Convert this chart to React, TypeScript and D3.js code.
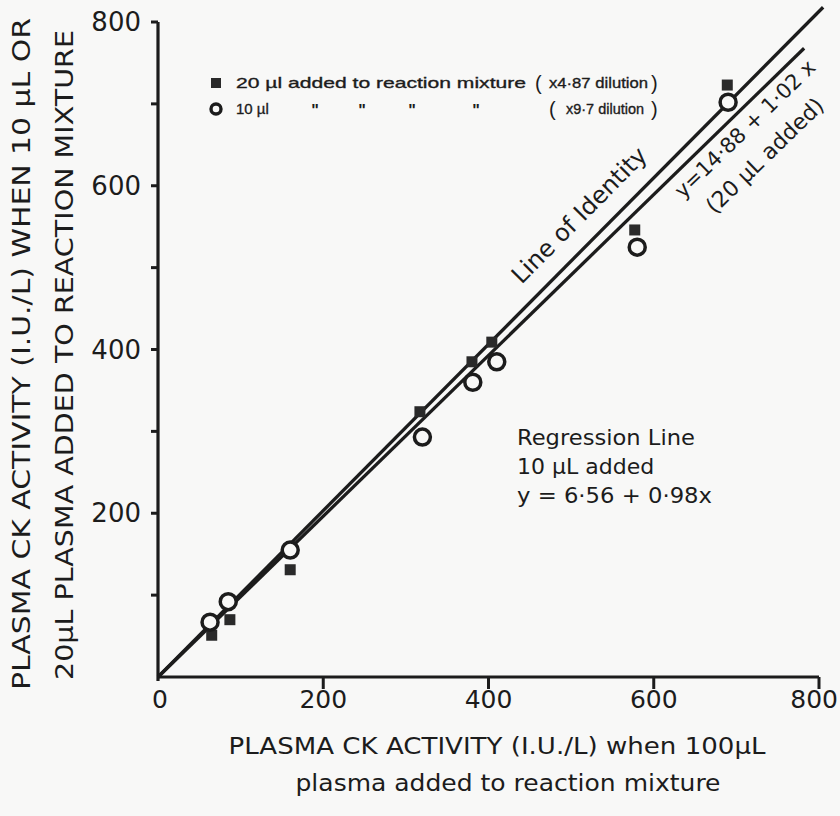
import React from "react";
import * as d3 from "d3";

// ---- data ----
const xTicks = [0, 200, 400, 600, 800];
const yTicks = [200, 400, 600, 800];
const yMinorTicks = [100, 300, 500, 700];
const xTickMarks = [200, 400, 600, 800];

// 20 µl added (x4.87 dilution) – filled squares
const sq20X = [65, 87, 160, 317, 380, 404, 577, 689];
const sq20Y = [51, 70, 131, 324, 385, 409, 546, 723];
// 10 µl added (x9.7 dilution) – open circles
const ci10X = [63, 85, 160, 320, 381, 410, 580, 690];
const ci10Y = [67, 92, 155, 293, 360, 385, 525, 702];

// drawn lines (start and end in data units)
const identityLineX = [0, 805];
const identityLineY = [0, 818];
const reg20LineX = [0, 782];
const reg20LineY = [0, 768];

const W = 840;
const H = 816;
const INK = "#1c1c1c";
const BG = "#f8f8f7";
const FONT = "'DejaVu Sans', 'Liberation Sans', sans-serif";
const LFONT = "'Liberation Sans', Arial, sans-serif";

export default function App() {
  const x = d3.scaleLinear().domain([0, 800]).range([158, 819]);
  const y = d3.scaleLinear().domain([0, 800]).range([677, 22]);
  const line = d3
    .line<[number, number]>()
    .x((d) => x(d[0]))
    .y((d) => y(d[1]));

  const idPts: [number, number][] = identityLineX.map((v, i) => [v, identityLineY[i]]);
  const regPts: [number, number][] = reg20LineX.map((v, i) => [v, reg20LineY[i]]);

  const angId =
    (Math.atan2(y(identityLineY[1]) - y(identityLineY[0]), x(identityLineX[1]) - x(identityLineX[0])) * 180) /
    Math.PI;
  const angReg =
    (Math.atan2(y(reg20LineY[1]) - y(reg20LineY[0]), x(reg20LineX[1]) - x(reg20LineX[0])) * 180) / Math.PI;

  const legendText = { fontFamily: LFONT, fontSize: 15, fill: INK, stroke: INK, strokeWidth: 0.35 } as const;

  return (
    <svg width={W} height={H} style={{ position: "absolute", left: 0, top: 0, background: BG }}>
      <rect x={0} y={0} width={W} height={H} fill={BG} />
      {/* axes */}
      <line x1={x(0)} x2={x(800)} y1={y(0)} y2={y(0)} stroke={INK} strokeWidth={3.2} />
      <line x1={x(0)} x2={x(0)} y1={y(0) + 4} y2={y(800)} stroke={INK} strokeWidth={3.2} />
      {xTickMarks.map((t) => (
        <line key={"xt" + t} x1={x(t)} x2={x(t)} y1={y(0)} y2={y(0) + 12} stroke={INK} strokeWidth={3} />
      ))}
      {yTicks.map((t) => (
        <line key={"yt" + t} x1={x(0) - 7} x2={x(0)} y1={y(t)} y2={y(t)} stroke={INK} strokeWidth={3} />
      ))}
      {yMinorTicks.map((t) => (
        <line key={"ym" + t} x1={x(0) - 7} x2={x(0)} y1={y(t)} y2={y(t)} stroke={INK} strokeWidth={3} />
      ))}
      {/* tick labels */}
      {xTicks.map((t) => (
        <text
          key={"xl" + t}
          x={t === 800 ? W - 2 : x(t) + (t === 0 ? 2 : 0)}
          y={708}
          textAnchor={t === 800 ? "end" : "middle"}
          fontFamily={FONT}
          fontSize={25}
          fill={INK}
        >
          {t}
        </text>
      ))}
      {yTicks.map((t) => (
        <text key={"yl" + t} x={141} y={y(t) + 9} textAnchor="end" fontFamily={FONT} fontSize={26} fill={INK}>
          {t}
        </text>
      ))}
      {/* axis titles */}
      <text x={497} y={754} textAnchor="middle" fontFamily={FONT} fontSize={23} fill={INK} textLength={537} lengthAdjust="spacingAndGlyphs">
        PLASMA CK ACTIVITY (I.U./L) when 100µL
      </text>
      <text x={508} y={791} textAnchor="middle" fontFamily={FONT} fontSize={23} fill={INK} textLength={425} lengthAdjust="spacingAndGlyphs">
        plasma added to reaction mixture
      </text>
      <text
        transform="translate(30,354) rotate(-90)"
        textAnchor="middle"
        fontFamily={FONT}
        fontSize={25}
        fill={INK}
        textLength={672}
        lengthAdjust="spacingAndGlyphs"
      >
        PLASMA CK ACTIVITY (I.U./L) WHEN 10 µL OR
      </text>
      <text
        transform="translate(73,355) rotate(-90)"
        textAnchor="middle"
        fontFamily={FONT}
        fontSize={25}
        fill={INK}
        textLength={650}
        lengthAdjust="spacingAndGlyphs"
      >
        20µL PLASMA ADDED TO REACTION MIXTURE
      </text>

      {/* lines */}
      <path d={line(idPts) || ""} stroke={INK} strokeWidth={3.3} fill="none" />
      <path d={line(regPts) || ""} stroke={INK} strokeWidth={3.3} fill="none" />

      {/* markers */}
      {sq20X.map((v, i) => (
        <rect key={"s" + i} x={x(v) - 5.5} y={y(sq20Y[i]) - 5.5} width={11} height={11} fill="#2a2a2a" />
      ))}
      {ci10X.map((v, i) => (
        <circle key={"c" + i} cx={x(v)} cy={y(ci10Y[i])} r={8} fill={BG} stroke={INK} strokeWidth={3.5} />
      ))}

      {/* line labels */}
      <text transform={`translate(585,221) rotate(${angId})`} textAnchor="middle" fontFamily={FONT} fontSize={24} fill={INK}>
        Line of Identity
      </text>
      <text transform={`translate(750,134) rotate(${angReg})`} textAnchor="middle" fontFamily={FONT} fontSize={21} fill={INK}>
        y=14·88 + 1·02 x
      </text>
      <text transform={`translate(770,161) rotate(${angReg})`} textAnchor="middle" fontFamily={FONT} fontSize={22} fill={INK}>
        (20 µL added)
      </text>

      {/* regression annotation */}
      <text x={517} y={445} fontFamily={FONT} fontSize={22} fill={INK} textLength={178} lengthAdjust="spacingAndGlyphs">
        Regression Line
      </text>
      <text x={517} y={474} fontFamily={FONT} fontSize={22} fill={INK}>
        10 µL added
      </text>
      <text x={517} y={503} fontFamily={FONT} fontSize={22} fill={INK} textLength={195} lengthAdjust="spacingAndGlyphs">
        y = 6·56 + 0·98x
      </text>

      {/* legend */}
      <rect x={211} y={78} width={10} height={10} fill="#2a2a2a" />
      <text x={236} y={88} {...legendText} textLength={290} lengthAdjust="spacingAndGlyphs">
        20 µl added to reaction mixture
      </text>
      <text x={535} y={90} fontFamily={LFONT} fontSize={20} fill={INK}>
        (
      </text>
      <text x={549} y={88} {...legendText} textLength={99} lengthAdjust="spacingAndGlyphs">
        x4·87 dilution
      </text>
      <text x={651} y={90} fontFamily={LFONT} fontSize={20} fill={INK}>
        )
      </text>

      <circle cx={216} cy={109} r={5} fill="none" stroke={INK} strokeWidth={3.4} />
      <text x={236} y={114} {...legendText}>
        10 µl
      </text>
      {[315, 362, 412, 476].map((px) => (
        <text key={"d" + px} x={px} y={116} fontFamily={LFONT} fontSize={16} fontWeight={700} fill={INK} textAnchor="middle">
          "
        </text>
      ))}
      <text x={549} y={116} fontFamily={LFONT} fontSize={20} fill={INK}>
        (
      </text>
      <text x={566} y={114} {...legendText} textLength={78} lengthAdjust="spacingAndGlyphs">
        x9·7 dilution
      </text>
      <text x={651} y={116} fontFamily={LFONT} fontSize={20} fill={INK}>
        )
      </text>
    </svg>
  );
}
